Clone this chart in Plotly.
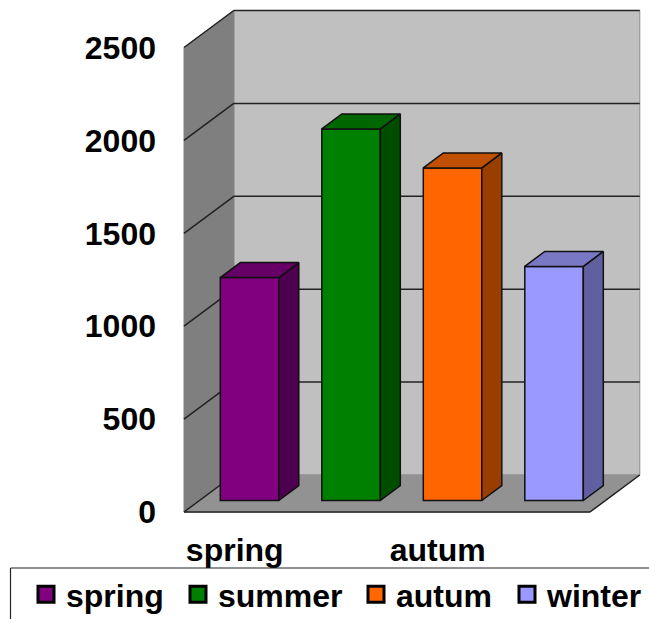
import plotly.graph_objects as go

# Seasonal totals
seasons = ["spring", "summer", "autum", "winter"]
totals = [1200, 2000, 1790, 1260]
front_colors = ["#800080", "#008000", "#FF6600", "#9999FF"]
side_colors = ["#4D004D", "#004D00", "#993D00", "#6060A0"]
top_colors = ["#660066", "#006600", "#C05000", "#7878C4"]
value_ticks = [0, 500, 1000, 1500, 2000, 2500]
labelled_positions = [0, 2]
labelled_names = ["spring", "autum"]
legend_text_starts = [68, 220, 398, 549]  # page pixels

WIDTH, HEIGHT = 649, 619
LEFT, RIGHT, TOP, BOTTOM = 180, 644, 7, 516  # plot area edges in page pixels
PX_PER_CAT = 101.5
PX_PER_VAL = 0.1858
X0_PX, Y0_PX = 234.75, 512.0  # where category 0 and value 0 fall
FONT_SIZE = 32


def sx(px):
    return px / PX_PER_CAT


def sy(px):
    return px / PX_PER_VAL


x_range = [(LEFT - X0_PX) / PX_PER_CAT, (RIGHT - X0_PX) / PX_PER_CAT]
y_range = [(Y0_PX - BOTTOM) / PX_PER_VAL, (Y0_PX - TOP) / PX_PER_VAL]

# Oblique projection of the box and the columns
wall_dx, wall_dy = sx(49.8), sy(37.0)
bar_shift_x, bar_shift_y = sx(14.8), sy(11.5)
bar_dx, bar_dy = sx(20.0), sy(15.0)
bar_width = sx(58.5)
x_lo, x_hi = -0.5, 3.5


def polygon(points):
    return "M " + " L ".join(f"{x},{y}" for x, y in points) + " Z"


def segment(x0, y0, x1, y1, color="#222222", width=1.5):
    return dict(type="line", xref="x", yref="y", layer="below", x0=x0, y0=y0, x1=x1, y1=y1,
                line=dict(color=color, width=width))


top_val = value_ticks[-1]
shapes = [
    # back wall
    dict(type="path", xref="x", yref="y", layer="below",
         path=polygon([(x_lo + wall_dx, wall_dy), (x_hi + wall_dx, wall_dy),
                       (x_hi + wall_dx, top_val + wall_dy), (x_lo + wall_dx, top_val + wall_dy)]),
         fillcolor="#C0C0C0", line=dict(color="#8C8C8C", width=1)),
    # side wall
    dict(type="path", xref="x", yref="y", layer="below",
         path=polygon([(x_lo, 0), (x_lo + wall_dx, wall_dy),
                       (x_lo + wall_dx, top_val + wall_dy), (x_lo, top_val)]),
         fillcolor="#7F7F7F", line=dict(color="#808080", width=1)),
    # floor
    dict(type="path", xref="x", yref="y", layer="below",
         path=polygon([(x_lo, 0), (x_hi, 0), (x_hi + wall_dx, wall_dy), (x_lo + wall_dx, wall_dy)]),
         fillcolor="#929292", line=dict(color="#929292", width=1)),
]
# value gridlines wrap around the side wall and the back wall
for v in value_ticks[1:]:
    shapes.append(segment(x_lo, v, x_lo + wall_dx, v + wall_dy))
    shapes.append(segment(x_lo + wall_dx, v + wall_dy, x_hi + wall_dx, v + wall_dy))
shapes += [
    segment(x_lo, 0, x_lo + wall_dx, wall_dy),
    segment(x_lo, 0, x_hi, 0),
    segment(x_hi, 0, x_hi + wall_dx, wall_dy),
]


# Page-pixel helpers for the legend frame, which sits outside the plot area
def paper_x(px):
    return (px - LEFT) / (RIGHT - LEFT)


def paper_y(py):
    return (BOTTOM - py) / (BOTTOM - TOP)


for x0, y0, x1, y1 in [(10.5, 568, WIDTH, 568), (10.5, 568, 10.5, HEIGHT)]:
    shapes.append(dict(type="line", xref="paper", yref="paper",
                       x0=paper_x(x0), y0=paper_y(y0), x1=paper_x(x1), y1=paper_y(y1),
                       line=dict(color="#222222", width=1.2)))

fig = go.Figure()

for i, (name, total) in enumerate(zip(seasons, totals)):
    cx = i + bar_shift_x
    x_a, x_b = cx - bar_width / 2, cx + bar_width / 2
    y_a, y_b = bar_shift_y, bar_shift_y + total

    fig.add_trace(go.Bar(
        x=[cx], y=[total], base=bar_shift_y, width=bar_width, name=name,
        marker=dict(color=front_colors[i], line=dict(color="#111111", width=1.5)),
        legendgroup=name, showlegend=False,
    ))
    # right-hand face
    fig.add_trace(go.Scatter(
        x=[x_b, x_b + bar_dx, x_b + bar_dx, x_b, x_b],
        y=[y_a, y_a + bar_dy, y_b + bar_dy, y_b, y_a],
        mode="lines", fill="toself", fillcolor=side_colors[i],
        line=dict(color="#111111", width=1.5), cliponaxis=False,
        legendgroup=name, showlegend=False, hoverinfo="skip",
    ))
    # top face
    fig.add_trace(go.Scatter(
        x=[x_a, x_a + bar_dx, x_b + bar_dx, x_b, x_a],
        y=[y_b, y_b + bar_dy, y_b + bar_dy, y_b, y_b],
        mode="lines", fill="toself", fillcolor=top_colors[i],
        line=dict(color="#111111", width=1.5), cliponaxis=False,
        legendgroup=name, showlegend=False, hoverinfo="skip",
    ))
    # legend key: every season has its own legend so the entries can be spaced freely
    fig.add_trace(go.Scatter(
        x=[None], y=[None], mode="markers", name=name, legendgroup=name,
        legend="legend" if i == 0 else f"legend{i + 1}",
        marker=dict(symbol="square", size=16, color=front_colors[i],
                    line=dict(color="#000000", width=3)),
    ))

bold_font = dict(family="Liberation Sans", size=FONT_SIZE, color="black", weight="bold")

legends = {}
for i, start in enumerate(legend_text_starts):
    key = "legend" if i == 0 else f"legend{i + 1}"
    legends[key] = dict(orientation="v", xref="container", yref="container",
                        x=(start - 42) / WIDTH, y=1 - 567 / HEIGHT,
                        xanchor="left", yanchor="top", bgcolor="rgba(0,0,0,0)", borderwidth=0,
                        itemsizing="trace", font=bold_font)

fig.update_layout(
    width=WIDTH, height=HEIGHT, autosize=False,
    margin=dict(l=LEFT, r=WIDTH - RIGHT, t=TOP, b=HEIGHT - BOTTOM, pad=0, autoexpand=False),
    paper_bgcolor="white", plot_bgcolor="white",
    font=bold_font,
    barmode="overlay",
    shapes=shapes,
    hovermode=False,
    xaxis=dict(range=x_range, tickmode="array", tickvals=labelled_positions, ticktext=labelled_names,
               showgrid=False, zeroline=False, showline=False, ticks="", ticklabelstandoff=12,
               tickangle=0, tickfont=bold_font, automargin=False),
    yaxis=dict(range=y_range, tickmode="array", tickvals=value_ticks,
               showgrid=False, zeroline=False, showline=False, ticks="", ticklabelstandoff=23,
               tickfont=bold_font, automargin=False),
    **legends,
)

fig.write_html("out.html", config={"displayModeBar": False})
